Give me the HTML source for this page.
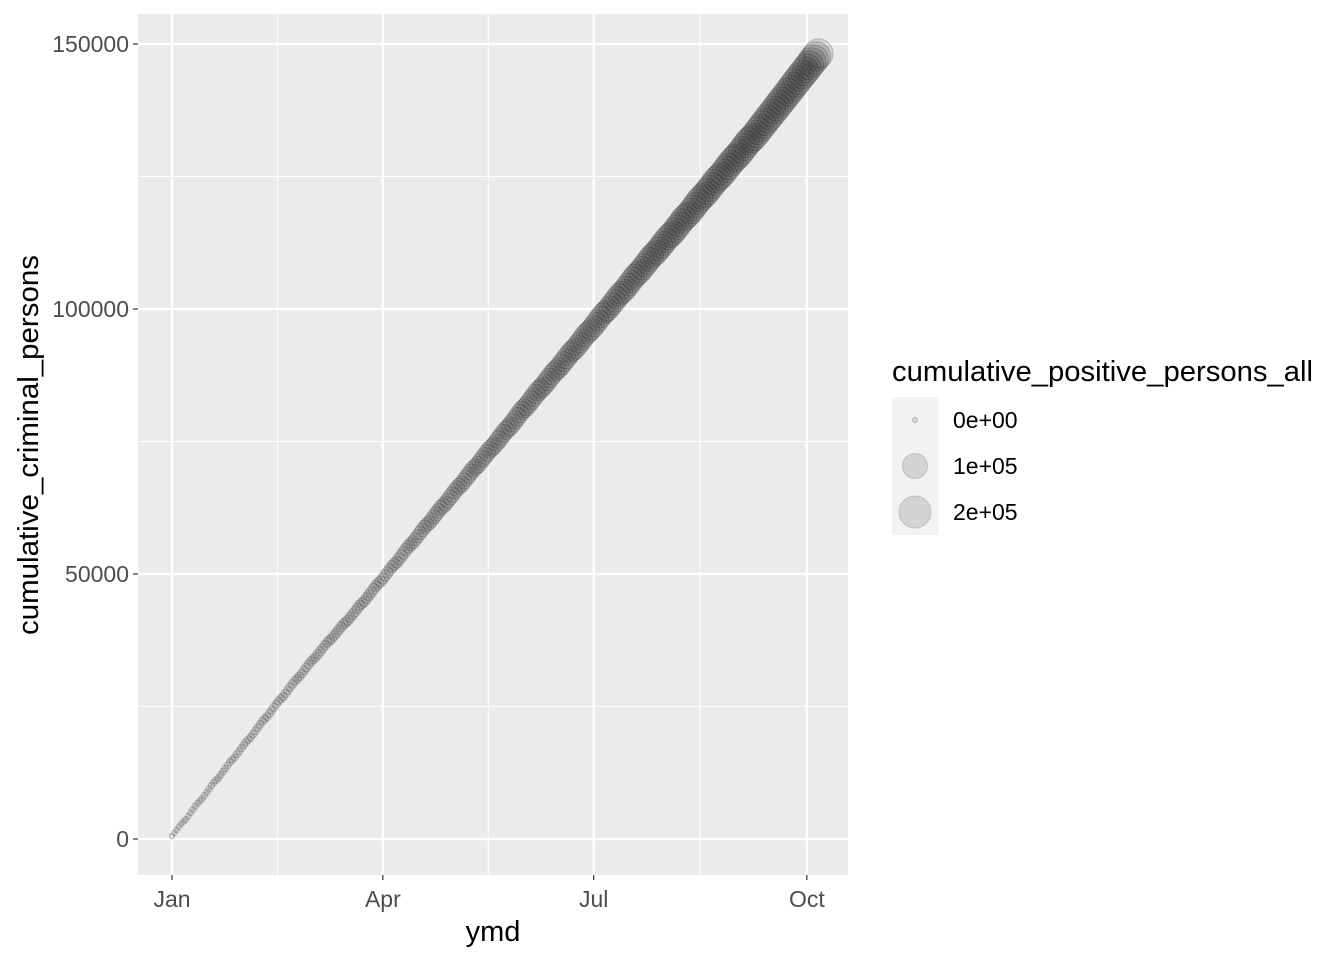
<!DOCTYPE html>
<html><head><meta charset="utf-8"><style>
body{margin:0;background:#fff;font-family:"Liberation Sans",Arial,sans-serif}
svg text{font-family:"Liberation Sans",Arial,sans-serif}
</style></head><body>
<svg id="chart" width="1344" height="960" xmlns="http://www.w3.org/2000/svg">
<rect x="138" y="14" width="710" height="861" fill="#ebebeb"/>
<g id="grid"></g>
<g id="points"></g>
<g id="axes"></g>
<text x="493" y="941" font-size="29" text-anchor="middle" fill="#000">ymd</text>
<text transform="translate(38,445) rotate(-90)" font-size="29" text-anchor="middle" fill="#000" textLength="380" lengthAdjust="spacingAndGlyphs">cumulative_criminal_persons</text>
<g>
<text x="892" y="381" font-size="29" fill="#000" textLength="421" lengthAdjust="spacingAndGlyphs">cumulative_positive_persons_all</text>
<rect x="892" y="397" width="47" height="138" fill="#f2f2f2"/>
<circle cx="915" cy="420" r="2.7" fill="rgba(0,0,0,0.12)" stroke="rgba(0,0,0,0.16)"/>
<circle cx="915" cy="466" r="12.5" fill="rgba(0,0,0,0.12)" stroke="rgba(0,0,0,0.16)"/>
<circle cx="915" cy="512" r="16" fill="rgba(0,0,0,0.12)" stroke="rgba(0,0,0,0.16)"/>
<text x="953" y="428" font-size="23">0e+00</text>
<text x="953" y="474" font-size="23">1e+05</text>
<text x="953" y="520" font-size="23">2e+05</text>
</g>
</svg>
<script>
const yTicks=[0,50000,100000,150000];
const yTickLabels=["0","50000","100000","150000"];
const xTicks=[0,91,182,274];
const xTickLabels=["Jan","Apr","Jul","Oct"];
// daily new criminal persons, starting Jan 1
const dailyCriminal=[
560,590,575,600,545,430,410, 600,620,590,610,580,450,420, 610,630,600,620,590,440,430, 600,610,590,620,580,450,420,
590,600,610,580,570,440,430, 600,620,600,610,590,450,420, 590,610,580,600,570,430,420, 580,600,590,610,560,430,410,
560,580,570,590,550,420,400, 540,560,550,560,530,410,390, 520,540,530,550,510,400,380, 540,560,550,570,540,420,400,
560,580,570,590,560,430,410, 560,570,580,590,550,430,400, 570,590,570,600,560,430,410, 560,580,570,590,550,420,400,
550,570,560,580,540,420,400, 560,580,570,590,550,430,410, 560,570,560,580,550,420,400, 550,570,560,580,540,420,400,
560,580,570,590,550,430,410, 570,590,580,600,560,430,410, 560,580,570,590,550,420,400, 550,560,560,570,540,420,400,
560,570,560,580,550,420,400, 550,570,560,580,540,420,400, 560,580,560,590,550,420,400, 550,570,560,580,540,420,400,
560,570,570,580,550,420,400, 550,570,560,580,540,420,400, 540,560,550,570,540,410,400, 550,570,560,580,540,420,400,
560,580,570,590,550,430,400, 550,570,560,580,540,420,400, 560,570,560,580,550,420,400, 550,570,560,580,540,420,400,
560,570,560,580,550,560,550, 550,570,560,580,540,560,550, 560,580,570,580,550,560,550, 550,570,560,580,540,560,550];
// daily new positive persons (all), starting Jan 1
const dailyPositive=[
10,12,14,15,16,18,20, 22,24,26,28,30,32,34, 36,38,40,42,44,46,48, 50,52,54,56,58,60,62, 64,66,68,70,72,74,76,
78,80,82,84,86,88,90, 92,94,96,98,100,102,104, 106,108,110,112,114,116,118, 120,122,124,126,128,130,132,
134,136,138,140,142,144,146, 148,150,152,154,156,158,160, 162,164,166,168,170,172,174, 176,178,180,182,184,186,188,
300,340,380,420,460,500,520, 540,560,580,590,600,610,620, 620,620,620,620,620,620,620, 620,620,620,620,620,620,620,
620,620,620,620,620,620,620, 620,620,620,620,620,620,620, 620,630,640,650,660,670,680, 680,690,700,700,700,700,700,
700,700,700,700,700,700,700, 700,700,700,700,700,700,700, 700,700,700,700,700,700,700, 700,700,700,700,700,700,700,
700,700,700,700,700,700,700, 720,740,760,780,800,820,840, 860,880,900,900,900,900,900, 900,900,900,900,900,900,900,
900,900,900,900,900,900,900, 900,900,900,900,900,900,900, 900,900,900,900,900,900,900, 880,860,840,820,800,800,800,
800,800,800,800,800,800,800, 800,800,800,800,800,800,800, 800,800,800,800,800,800,800, 800,800,800,800,800,800,800,
800,800,800,800,800,800,800, 800,800,800,800,800,800,800, 800,800,800,800,800,800,800, 800,800,800,800,800,800,800];
const NS="http://www.w3.org/2000/svg";
const X0=172,PXD=2.317, Y0=839, PXV=265/50000;
function xs(d){return X0+d*PXD;}
function ys(v){return Y0-v*PXV;}
function rs(v){return 2.7+0.031*Math.sqrt(v);}
function mk(tag,attrs,parent){const e=document.createElementNS(NS,tag);for(const k in attrs)e.setAttribute(k,attrs[k]);parent.appendChild(e);return e;}
const grid=document.getElementById('grid'), pts=document.getElementById('points'), axes=document.getElementById('axes');
for(let i=0;i<yTicks.length-1;i++){const v=(yTicks[i]+yTicks[i+1])/2;const l=mk('line',{x1:138,x2:848,y1:ys(v),y2:ys(v),stroke:'#fff','stroke-width':1},grid);

}
for(let i=0;i<xTicks.length-1;i++){const d=(xTicks[i]+xTicks[i+1])/2;const l=mk('line',{x1:xs(d),x2:xs(d),y1:14,y2:875,stroke:'#fff','stroke-width':1},grid);

}
yTicks.forEach((v,i)=>{const l=mk('line',{x1:138,x2:848,y1:ys(v),y2:ys(v),stroke:'#fff','stroke-width':2.2},grid);


const t=mk('line',{x1:133,x2:138,y1:ys(v),y2:ys(v),stroke:'#333','stroke-width':1.2},axes);


const tx=mk('text',{x:129,y:ys(v)+8,'font-size':23,'text-anchor':'end',fill:'#4d4d4d'},axes);tx.textContent=yTickLabels[i];

});
xTicks.forEach((d,i)=>{const l=mk('line',{x1:xs(d),x2:xs(d),y1:14,y2:875,stroke:'#fff','stroke-width':2.2},grid);


const t=mk('line',{x1:xs(d),x2:xs(d),y1:875,y2:880,stroke:'#333','stroke-width':1.2},axes);


const tx=mk('text',{x:xs(d),y:907,'font-size':23,'text-anchor':'middle',fill:'#4d4d4d'},axes);tx.textContent=xTickLabels[i];

});
let cc=0,cp=0;
for(let d=0;d<dailyCriminal.length;d++){cc+=dailyCriminal[d];cp+=dailyPositive[d];
const c=mk('circle',{cx:xs(d),cy:ys(cc),r:rs(cp),fill:'rgba(0,0,0,0.12)',stroke:'rgba(0,0,0,0.18)','stroke-width':1},pts);

}
</script>
</body></html>
